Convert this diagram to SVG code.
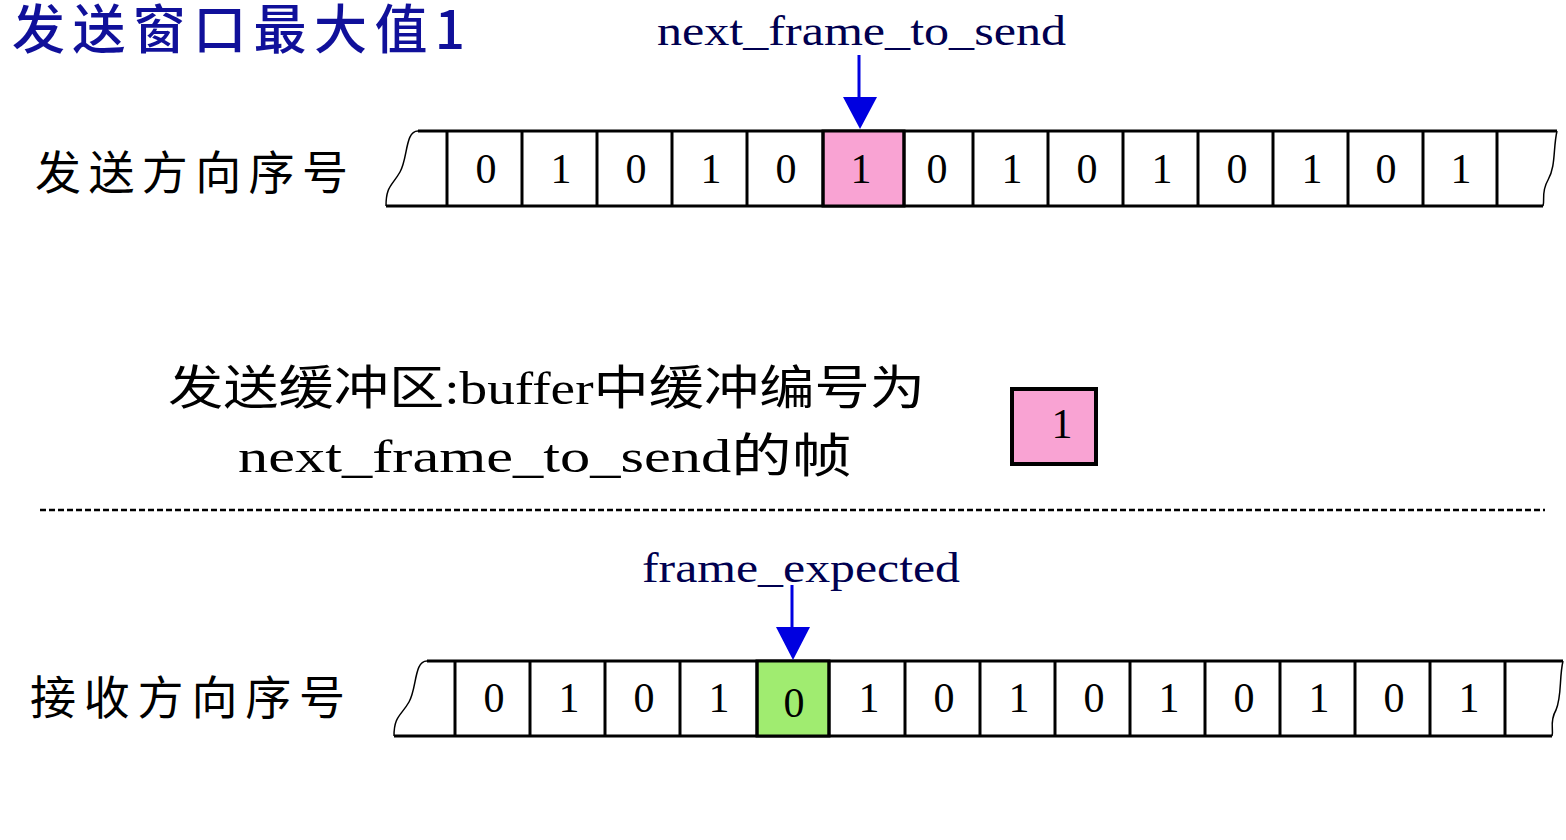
<svg xmlns="http://www.w3.org/2000/svg" width="1566" height="840" viewBox="0 0 1566 840">
<style>
.ln{stroke:#000;stroke-width:3;fill:none}
.thin{stroke:#000;stroke-width:1.5;fill:none}
.dig{font-family:"Liberation Serif",serif;font-size:42px;fill:#000;text-anchor:middle}
.lab{font-family:"Liberation Serif","Noto Sans CJK SC",serif;font-size:42px;fill:#000050}
.cn{font-family:"Noto Sans CJK SC",sans-serif;font-size:46px;fill:#000}
.mix{font-family:"Liberation Serif","Noto Sans CJK SC",serif;font-size:47px;fill:#000}
.arr{stroke:#0000e0;stroke-width:3;fill:none}
</style>
<rect width="1566" height="840" fill="#fff"/>
<text id="title" x="12" y="49" font-family="Noto Sans CJK SC,sans-serif" font-size="53" font-weight="500" fill="#10109a" textLength="453" lengthAdjust="spacing">发送窗口最大值1</text>

<g id="send-tape">
<text class="cn" x="35" y="189" textLength="313" lengthAdjust="spacing">发送方向序号</text>
<line class="ln" x1="418" y1="131" x2="1557" y2="131"/>
<line class="ln" x1="386" y1="206" x2="1543" y2="206"/>
<path class="thin" d="M418,131 C405,131 408,158 400,172 C392,186 386,186 386,206"/>
<path class="thin" d="M1557,131 C1553,148 1556,166 1548,180 C1541,192 1545,200 1543,206"/>
<rect x="823" y="131" width="81" height="75" fill="#f9a3d3" stroke="#000" stroke-width="3"/>
<g class="ln">
<line x1="447" y1="131" x2="447" y2="206"/><line x1="522" y1="131" x2="522" y2="206"/>
<line x1="597" y1="131" x2="597" y2="206"/><line x1="672" y1="131" x2="672" y2="206"/>
<line x1="747" y1="131" x2="747" y2="206"/><line x1="823" y1="131" x2="823" y2="206"/>
<line x1="904" y1="131" x2="904" y2="206"/><line x1="973" y1="131" x2="973" y2="206"/>
<line x1="1048" y1="131" x2="1048" y2="206"/><line x1="1123" y1="131" x2="1123" y2="206"/>
<line x1="1198" y1="131" x2="1198" y2="206"/><line x1="1273" y1="131" x2="1273" y2="206"/>
<line x1="1348" y1="131" x2="1348" y2="206"/><line x1="1423" y1="131" x2="1423" y2="206"/>
<line x1="1497" y1="131" x2="1497" y2="206"/>
</g>
<g class="dig">
<text x="486" y="183">0</text><text x="561" y="183">1</text><text x="636" y="183">0</text>
<text x="711" y="183">1</text><text x="786" y="183">0</text><text x="861" y="183">1</text>
<text x="937" y="183">0</text><text x="1012" y="183">1</text><text x="1087" y="183">0</text>
<text x="1162" y="183">1</text><text x="1237" y="183">0</text><text x="1312" y="183">1</text>
<text x="1386" y="183">0</text><text x="1461" y="183">1</text>
</g>
</g>

<g id="send-pointer">
<text class="lab" x="657" y="45" textLength="409" lengthAdjust="spacingAndGlyphs">next_frame_to_send</text>
</g>

<g id="buffer-label">
<text class="mix" x="168" y="404" textLength="757" lengthAdjust="spacingAndGlyphs">发送缓冲区:buffer中缓冲编号为</text>
<text class="mix" x="238" y="472" textLength="614" lengthAdjust="spacingAndGlyphs">next_frame_to_send的帧</text>
</g>

<g id="buffer-box">
<rect x="1012" y="389" width="84" height="75" fill="#f9a3d3" stroke="#000" stroke-width="4"/>
<text class="dig" x="1062" y="438">1</text>
</g>

<line id="divider" x1="40" y1="510" x2="1545" y2="510" stroke="#000" stroke-width="2.5" stroke-dasharray="6,3"/>

<g id="recv-tape">
<text class="cn" x="30" y="714" textLength="315" lengthAdjust="spacing">接收方向序号</text>
<line class="ln" x1="427" y1="661" x2="1563" y2="661"/>
<line class="ln" x1="394" y1="736" x2="1552" y2="736"/>
<path class="thin" d="M427,661 C414,661 417,688 409,702 C401,716 394,716 394,736"/>
<path class="thin" d="M1563,661 C1559,678 1562,696 1556,710 C1549,722 1554,730 1552,736"/>
<rect x="757" y="661" width="72" height="75" fill="#a0ec70" stroke="#000" stroke-width="3"/>
<g class="ln">
<line x1="455" y1="661" x2="455" y2="736"/><line x1="530" y1="661" x2="530" y2="736"/>
<line x1="605" y1="661" x2="605" y2="736"/><line x1="680" y1="661" x2="680" y2="736"/>
<line x1="757" y1="661" x2="757" y2="736"/><line x1="829" y1="661" x2="829" y2="736"/>
<line x1="905" y1="661" x2="905" y2="736"/><line x1="980" y1="661" x2="980" y2="736"/>
<line x1="1055" y1="661" x2="1055" y2="736"/><line x1="1130" y1="661" x2="1130" y2="736"/>
<line x1="1205" y1="661" x2="1205" y2="736"/><line x1="1280" y1="661" x2="1280" y2="736"/>
<line x1="1355" y1="661" x2="1355" y2="736"/><line x1="1430" y1="661" x2="1430" y2="736"/>
<line x1="1505" y1="661" x2="1505" y2="736"/>
</g>
<g class="dig">
<text x="494" y="712">0</text><text x="569" y="712">1</text><text x="644" y="712">0</text>
<text x="719" y="712">1</text><text x="794" y="717">0</text><text x="869" y="712">1</text>
<text x="944" y="712">0</text><text x="1019" y="712">1</text><text x="1094" y="712">0</text>
<text x="1169" y="712">1</text><text x="1244" y="712">0</text><text x="1319" y="712">1</text>
<text x="1394" y="712">0</text><text x="1469" y="712">1</text>
</g>
</g>

<g id="recv-pointer">
<text class="lab" x="642" y="582" textLength="318" lengthAdjust="spacingAndGlyphs">frame_expected</text>
</g>

<g id="connectors">
<line x1="859" y1="55" x2="859" y2="100" class="arr"/>
<path d="M843,97 L877,97 L860,129 Z" fill="#0000e0"/>
<line x1="792" y1="585" x2="792" y2="630" class="arr"/>
<path d="M776,627 L810,627 L793,660 Z" fill="#0000e0"/>
</g>
</svg>
